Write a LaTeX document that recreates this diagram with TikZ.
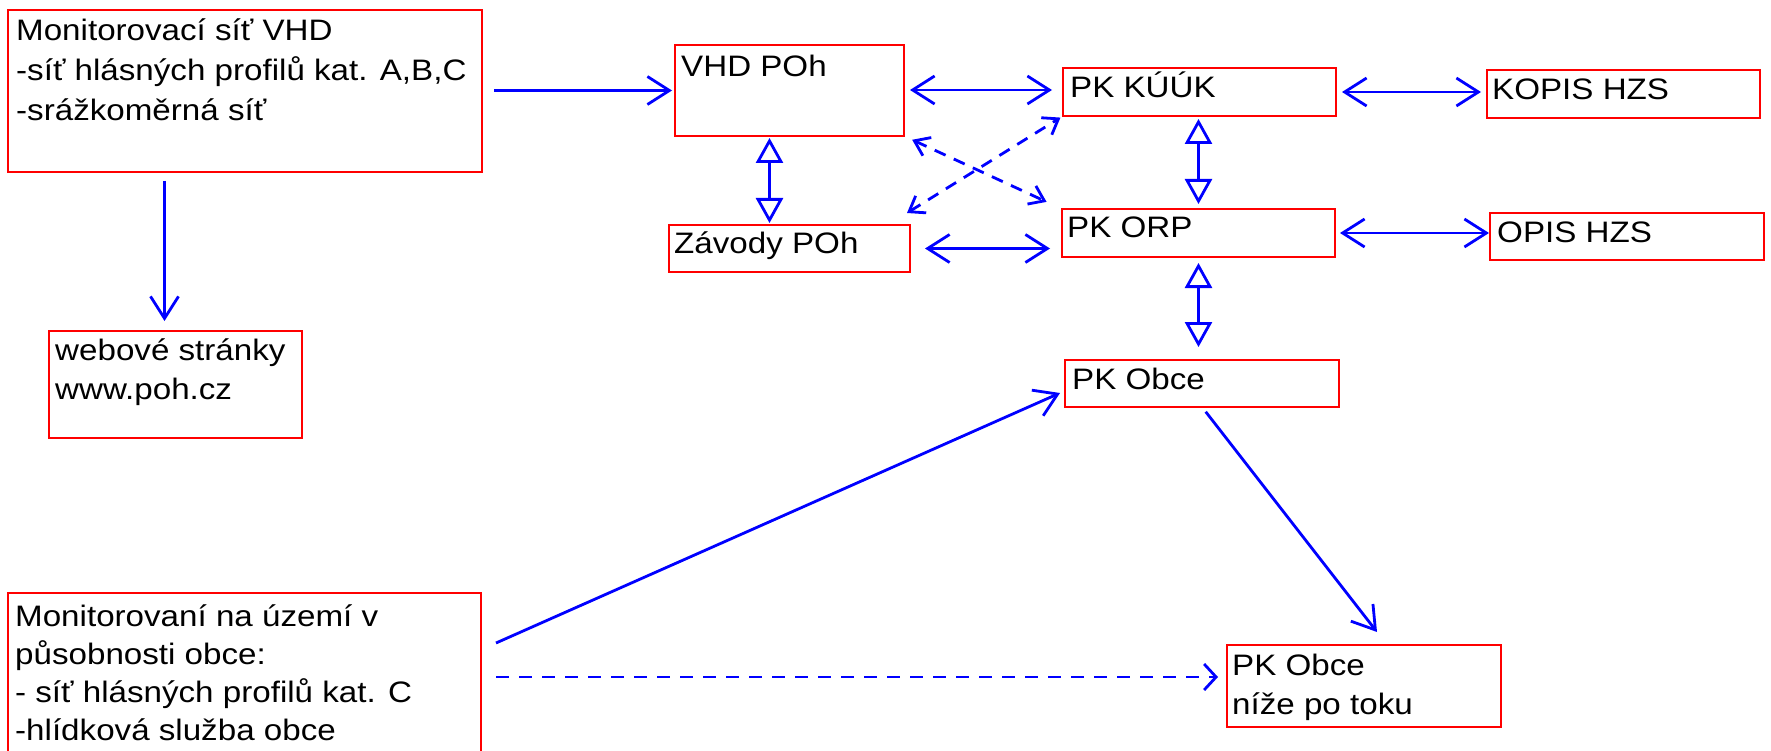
\documentclass[tikz,border=0pt]{standalone}
\usepackage{fontspec}
\setmainfont{Liberation Sans}[FakeStretch=1.12]
\usetikzlibrary{arrows.meta,calc}
\definecolor{bred}{RGB}{255,0,0}
\definecolor{ablue}{RGB}{0,0,255}
\begin{document}
\begin{tikzpicture}[x=1pt,y=-1pt,
  box/.style={draw=bred, line width=2.7pt, inner sep=0pt, outer sep=0pt, anchor=north west},
  txt/.style={anchor=base west, inner sep=0pt, align=left, text=black,
    font=\fontsize{29.6}{39}\selectfont},
  link/.style={draw=ablue, line width=2.8pt},
  one/.style={link, -{Straight Barb[length=22pt,width=28pt]}},
  two/.style={link, {Straight Barb[length=22pt,width=28pt]}-{Straight Barb[length=22pt,width=28pt]}},
  tri/.style={link, {Triangle[open,length=25pt,width=27pt]}-{Triangle[open,length=25pt,width=27pt]}},
  dtwo/.style={link, dash pattern=on 12pt off 9pt, {Straight Barb[length=14pt,width=20pt]}-{Straight Barb[length=14pt,width=20pt]}},
  done/.style={link, dash pattern=on 13pt off 10pt, -{Straight Barb[length=12pt,width=26pt]}}
]
\useasboundingbox (0,0) rectangle (1771,751);
\fill[white] (0,0) rectangle (1771,751);

% boxes
\node[box, minimum width=474pt, minimum height=162pt] (mon) at (8,10) {};
\node[box, minimum width=229pt, minimum height=91pt] (vhd) at (675,45) {};
\node[box, minimum width=241pt, minimum height=47pt] (zav) at (669,225) {};
\node[box, minimum width=273pt, minimum height=48pt] (kuuk) at (1063,68) {};
\node[box, minimum width=273pt, minimum height=48pt] (kopis) at (1487,70) {};
\node[box, minimum width=273pt, minimum height=48pt] (orp) at (1062,209) {};
\node[box, minimum width=274pt, minimum height=47pt] (opis) at (1490,213) {};
\node[box, minimum width=274pt, minimum height=47pt] (obce) at (1065,360) {};
\node[box, minimum width=253pt, minimum height=107pt] (web) at (49,331) {};
\node[box, minimum width=473pt, minimum height=230pt] (mon2) at (8,593) {};
\node[box, minimum width=274pt, minimum height=82pt] (nize) at (1227,645) {};

% texts (anchored at the baseline of the last line)
\node[txt, font=\fontsize{29.6}{40}\selectfont] (monT) at ([shift={(8,110.7)}]mon.north west) {Monitorovací síť VHD\\-síť hlásných profilů kat. A,B,C\\-srážkoměrná síť};
\node[txt] (vhdT) at ([shift={(6,32)}]vhd.north west) {VHD POh};
\node[txt] (zavT) at ([shift={(5,29)}]zav.north west) {Závody POh};
\node[txt] (kuukT) at ([shift={(7,30)}]kuuk.north west) {PK KÚÚK};
\node[txt] (kopisT) at ([shift={(5,30)}]kopis.north west) {KOPIS HZS};
\node[txt] (orpT) at ([shift={(5,29)}]orp.north west) {PK ORP};
\node[txt] (opisT) at ([shift={(7,30)}]opis.north west) {OPIS HZS};
\node[txt] (obceT) at ([shift={(7,29)}]obce.north west) {PK Obce};
\node[txt] (webT) at ([shift={(6,68)}]web.north west) {webové stránky\\www.poh.cz};
\node[txt, font=\fontsize{29.6}{38.3}\selectfont] (mon2T) at ([shift={(7,147.9)}]mon2.north west) {Monitorovaní na území v\\působnosti obce:\\- síť hlásných profilů kat. C\\-hlídková služba obce};
\node[txt] (nizeT) at ([shift={(5,69)}]nize.north west) {PK Obce\\níže po toku};

% connectors
\draw[one, shorten <=12pt, shorten >=3pt] (mon.east |- vhd.west) -- (vhd.west);
\draw[one, shorten <=9pt, shorten >=10pt] ([xshift=-11pt]web.north |- mon.south) -- ([xshift=-11pt]web.north);
\draw[two, shorten <=6pt, shorten >=11pt] ([yshift=2pt]vhd.east |- kuuk.west) -- ([yshift=2pt]kuuk.west);
\draw[two, shorten <=6pt, shorten >=6pt] (kuuk.east) -- (kuuk.east -| kopis.west);
\draw[tri, shorten <=2pt, shorten >=2pt] ([xshift=-20pt]vhd.south) -- ([xshift=-20pt]zav.north);
\draw[two, shorten <=15pt, shorten >=12pt] (zav.east) -- (zav.east -| orp.west);
\draw[two, shorten <=5pt, shorten >=1pt] (orp.east) -- (orp.east -| opis.west);
\draw[tri, shorten <=3pt, shorten >=5pt] (kuuk.south -| orp.north) -- (orp.north);
\draw[tri, shorten <=6pt, shorten >=13pt] (orp.south) -- (orp.south |- obce.north);
\draw[dtwo, shorten <=9pt, shorten >=17pt] (vhd.south east) -- (orp.north west);
\draw[dtwo, shorten >=3pt] ([shift={(-3,-12)}]zav.north east) -- (kuuk.south west);
\draw[one] ([shift={(15,50)}]mon2.north east) -- ([shift={(-5,9.5)}]obce.west);
\draw[done, shorten >=9pt] ([shift={(15,84)}]mon2.north east) -- ([shift={(0,-9)}]nize.west);
\draw[one, shorten <=6pt] (obce.south) -- ([shift={(13,-13)}]nize.north);
\end{tikzpicture}
\end{document}
